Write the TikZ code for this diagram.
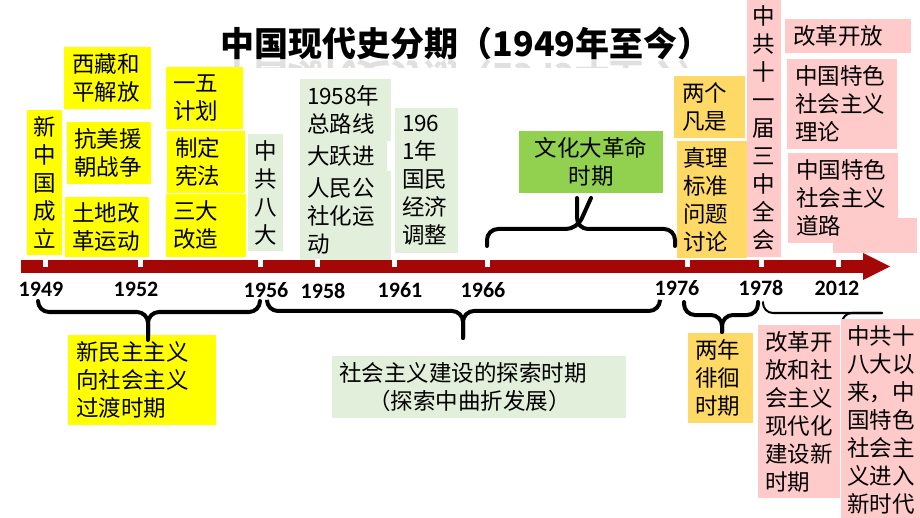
\documentclass[tikz,border=0pt]{standalone}
\usepackage{fontspec}
\setmainfont{Noto Sans CJK SC}
\newfontfamily\yearfont{Carlito}
\definecolor{ybx}{HTML}{FFFF00}
\definecolor{lgc}{HTML}{E2EFDA}
\definecolor{gc}{HTML}{92D050}
\definecolor{gdc}{HTML}{FFD966}
\definecolor{pkc}{HTML}{FFCACA}
\definecolor{barc}{HTML}{A50606}
\tikzset{
  cbox/.style={inner sep=0pt, outer sep=0pt, anchor=north west, font=\fontsize{22.5}{28}\selectfont},
  yelbox/.style={cbox, fill=ybx},
  lgbox/.style={cbox, fill=lgc},
  gbox/.style={cbox, fill=gc},
  gdbox/.style={cbox, fill=gdc},
  pkbox/.style={cbox, fill=pkc},
  yearlbl/.style={inner sep=0pt, font=\yearfont\bfseries\fontsize{22}{22}\selectfont},
  titlef/.style={inner sep=0pt, font=\bfseries\fontsize{34}{36}\selectfont},
  bracethick/.style={line width=4pt, rounded corners=11pt, line cap=round},
  bracethin/.style={line width=2pt, rounded corners=10pt, line cap=round},
}
\newcommand\bx[8]{%
  \pgfmathsetmacro\bxw{#5-#3}\pgfmathsetmacro\bxh{#6-#4}\pgfmathsetmacro\bxt{#5-#3-2*#7}%
  \node[#2, minimum width=\bxw pt, minimum height=\bxh pt, text width=\bxt pt] (#1) at (#3,#4) {#8};}
\begin{document}
\begin{tikzpicture}[x=1pt,y=-1pt]
\useasboundingbox (0,0) rectangle (920,518);
\fill[white] (0,0) rectangle (920,518);
% title
\node[titlef] (title) at (466,43) {中国现代史分期（1949年至今）};
\begin{scope}
\clip (200,60) rectangle (730,68);
\node[titlef, text=black, opacity=0.12, yscale=-1, transform shape] (titlerefl) at (466,77) {中国现代史分期（1949年至今）};
\end{scope}
% thin brace (behind boxes)
\coordinate (b4l) at (763,302);
\coordinate (b4r) at (882,313);
\draw[bracethin] (b4l) -- (763,313) -- (b4r);
\draw[bracethin] (882,313) -- (842,313) -- (842,326);
% yellow boxes
\bx{xz}{yelbox,align=left}{64}{47}{151}{109}{8}{西藏和\\平解放}
\bx{kmy}{yelbox,align=left}{67}{122}{151}{184}{7}{抗美援\\朝战争}
\bx{tdgg}{yelbox,align=left}{65}{197}{149}{257}{7}{土地改\\革运动}
\bx{xzg}{yelbox,align=center}{27}{110}{62}{255}{0}{新\\中\\国\\成\\立}
\bx{ywjh}{yelbox,align=left}{166}{67}{243}{129}{7}{一五\\计划}
\bx{zdxf}{yelbox,align=left}{167}{131}{245}{193}{8}{制定\\宪法}
\bx{sdgz}{yelbox,align=left}{166}{194}{246}{257}{7}{三大\\改造}
\bx{xmz}{yelbox,align=left}{68}{335}{216}{425}{8}{新民主主义\\向社会主义\\过渡时期}
% light green boxes
\bx{bd}{lgbox,align=center}{248}{134}{283}{251}{0}{中\\共\\八\\大}
\bx{zlx}{lgbox,align=left}{300}{79}{391}{141}{7}{1958年\\总路线}
\bx{dyj}{lgbox,align=left}{300}{141}{387}{171}{7}{大跃进}
\bx{rmgs}{lgbox,align=left}{300}{171}{391}{261}{7}{人民公\\社化运\\动}
\bx{jjtz}{lgbox,align=left}{395}{108}{458}{253}{7}{196\\1年\\国民\\经济\\调整}
\bx{tsqj}{lgbox,align=left}{332}{356}{626}{418}{7}{社会主义建设的探索时期\\\hspace*{29pt}（探索中曲折发展）}
% green
\bx{whdg}{gbox,align=center}{519}{131}{663}{193}{0}{文化大革命\\时期}
% gold
\bx{lgfs}{gdbox,align=left}{674}{76}{745}{138}{8}{两个\\凡是}
\bx{zlbz}{gdbox,align=left}{677}{141}{747}{258}{6}{真理\\标准\\问题\\讨论}
\bx{lnph}{gdbox,align=left}{688}{333}{753}{423}{7}{两年\\徘徊\\时期}
% pink
\bx{ssj}{pkbox,align=center}{747}{-1}{781}{257}{0}{中\\共\\十\\一\\届\\三\\中\\全\\会}
\bx{ggkf}{pkbox,align=left}{785}{19}{911}{53}{8}{改革开放}
\bx{frag}{pkbox}{833}{218}{917}{253}{0}{}
\bx{tsll}{pkbox,align=left}{787}{59}{897}{149}{8}{中国特色\\社会主义\\理论}
\bx{tsdl}{pkbox,align=left}{788}{153}{898}{243}{8}{中国特色\\社会主义\\道路}
\bx{ggxsq}{pkbox,align=left}{758}{325}{840}{498}{7}{改革开\\放和社\\会主义\\现代化\\建设新\\时期}
\bx{xsd}{pkbox,align=left}{841}{319}{922}{520}{6}{中共十\\八大以\\来，中\\国特色\\社会主\\义进入\\新时代}
% timeline bar
\fill[barc] (21,260) rectangle (863,273);
\fill[barc] (863,253) -- (890,266.5) -- (863,280) -- cycle;
\foreach \t in {45,140,260,317,394,487,687,761,838}
  \fill[white] (\t-2.5,259) rectangle (\t+2.5,267);
% years
\node[yearlbl] (y1949) at (41,289) {1949};
\node[yearlbl] (y1952) at (136,289) {1952};
\node[yearlbl] (y1956) at (266,290) {1956};
\node[yearlbl] (y1958) at (323,291) {1958};
\node[yearlbl] (y1961) at (400,290) {1961};
\node[yearlbl] (y1966) at (483,290) {1966};
\node[yearlbl] (y1976) at (677,288) {1976};
\node[yearlbl] (y1978) at (761,288) {1978};
\node[yearlbl] (y2012) at (837,288) {2012};
% braces
\draw[bracethick] (38,301) -- (38,312) -- (148,312) -- (xmz.north -| 148,0);
\draw[bracethick] (260,301) -- (260,312) -- (148,312) -- (148,340);
\draw[bracethick] (267,301) -- (267,311) -- (463,311) -- (463,338);
\draw[bracethick] (660,301) -- (660,311) -- (463,311) -- (463,338);
\draw[bracethick] (684,302) -- (684,315) -- (722,315) -- (722,332);
\draw[bracethick] (758,302) -- (758,315) -- (722,315) -- (722,332);
\draw[bracethick] (487,246) -- (487,229) -- (577,229) -- (whdg.south |- 0,198);
\draw[bracethick] (675,246) -- (675,229) -- (577,229) -- (577,198);
\end{tikzpicture}
\end{document}
